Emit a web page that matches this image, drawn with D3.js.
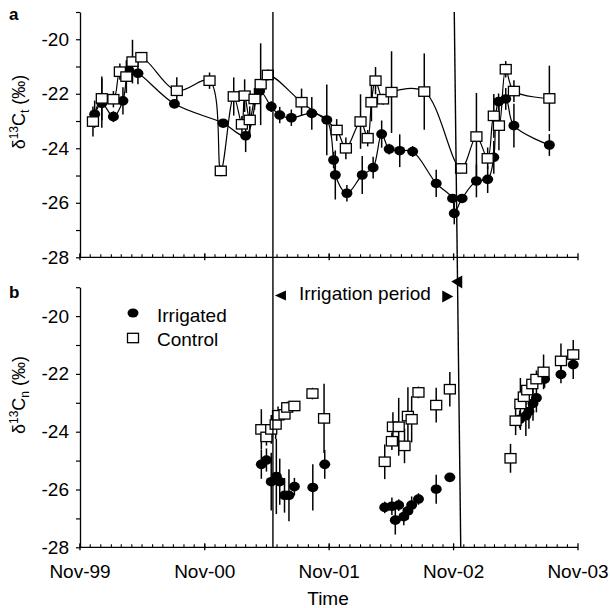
<!DOCTYPE html>
<html>
<head>
<meta charset="utf-8">
<script src="https://cdn.jsdelivr.net/npm/d3@7"></script>
<style>
body { margin: 0; background: #fff; }
svg text { font-family: "Liberation Sans", Arial, sans-serif; fill: #000; }
</style>
</head>
<body>
<svg id="chart" width="610" height="608"></svg>
<script>
// [date, mean, +/- error]
// panel a - d13C total
const aIrrigated = [
    ["1999-12-14",-22.75,0.5],["2000-01-04",-22.35,0.9],["2000-02-07",-22.84,0.2],["2000-03-06",-22.26,0.5],
    ["2000-03-24",-21.16,0.3],["2000-04-19",-21.25,0.4],["2000-08-04",-22.37,0.1],["2000-12-25",-23.08,0.1],
    ["2001-03-01",-23.54,0.6],["2001-04-11",-21.9,0.3],["2001-05-15",-22.47,0.2],["2001-06-09",-22.78,0.3],
    ["2001-07-13",-22.88,0.3],["2001-09-11",-22.72,0.6],["2001-10-25",-22.96,1.3],["2001-11-14",-24.43,0.3],
    ["2001-11-19",-24.98,0.9],["2001-12-23",-25.65,0.3],["2002-02-06",-24.98,0.7],["2002-03-10",-24.71,0.4],
    ["2002-04-04",-23.48,0.5],["2002-04-26",-24.03,0.2],["2002-05-27",-24.09,0.6],["2002-07-04",-24.12,0.2],
    ["2002-09-11",-25.29,0.5],["2002-10-29",-25.84,0.1],["2002-11-03",-26.39,0.4],["2002-11-26",-25.84,0.1],
    ["2003-01-07",-25.2,0.6],["2003-02-09",-25.14,0.5],["2003-02-27",-24.33,0.6],["2003-03-13",-22.29,0.3],
    ["2003-04-03",-22.19,0.4],["2003-04-27",-23.17,0.8],["2003-08-09",-23.88,0.4]
]
const aControl = [
    ["1999-12-09",-23.02,0.55],["2000-01-04",-22.17,0.8],["2000-02-07",-22.2,0.3],["2000-02-26",-21.19,0.3],
    ["2000-03-16",-21.37,0.6],["2000-04-03",-20.82,0.8],["2000-04-29",-20.66,0.1],["2000-08-11",-21.89,0.5],
    ["2000-11-15",-21.52,0.3],["2000-12-18",-24.83,0.2],["2001-01-25",-22.1,0.7],["2001-02-18",-23.12,0.3],
    ["2001-02-26",-22.07,0.6],["2001-03-13",-22.96,0.5],["2001-03-27",-22.19,0.4],["2001-04-14",-21.65,1.5],
    ["2001-05-05",-21.31,0.2],["2001-08-12",-22.31,0.5],["2001-11-23",-23.33,0.4],["2001-12-20",-24.0,0.4],
    ["2002-02-01",-23.02,1.0],["2002-02-22",-23.63,0.3],["2002-03-05",-22.31,0.7],["2002-03-17",-21.52,0.5],
    ["2002-04-08",-22.2,0.2],["2002-05-03",-21.94,1.5],["2002-08-07",-21.92,1.4],["2002-11-23",-24.74,0.1],
    ["2003-01-07",-23.57,1.6],["2003-02-09",-24.37,0.4],["2003-02-27",-22.81,0.8],["2003-03-14",-23.17,0.9],
    ["2003-04-03",-21.1,0.3],["2003-04-27",-21.9,0.4],["2003-08-09",-22.17,1.2]
]
// panel b - d13C needles
const bIrrigated = [
    ["2001-04-16",-25.13,0.5],["2001-05-01",-24.98,0.4],["2001-05-15",-25.73,1.0],["2001-05-30",-25.55,1.3],
    ["2001-06-09",-25.73,0.8],["2001-06-23",-26.2,0.6],["2001-07-06",-26.2,0.9],["2001-07-22",-25.9,0.3],
    ["2001-09-14",-25.93,0.8],["2001-10-19",-25.13,0.5],["2002-04-13",-26.62,0.2],["2002-05-04",-26.58,0.3],
    ["2002-05-14",-27.06,0.5],["2002-05-24",-26.54,0.2],["2002-06-08",-26.94,0.3],["2002-06-20",-26.74,0.3],
    ["2002-07-01",-26.54,0.3],["2002-07-21",-26.33,0.2],["2002-09-11",-25.99,0.5],["2002-10-21",-25.58,0.1],
    ["2003-05-14",-23.57,0.3],["2003-06-01",-23.45,0.7],["2003-06-10",-23.3,0.6],["2003-06-22",-23.02,0.6],
    ["2003-07-02",-22.83,0.5],["2003-07-26",-22.18,0.3],["2003-09-12",-22.02,0.3],["2003-10-18",-21.68,0.5]
]
const bControl = [
    ["2001-04-16",-23.92,0.7],["2001-05-01",-24.18,0.3],["2001-05-15",-23.92,0.5],["2001-05-28",-23.75,0.5],
    ["2001-06-04",-23.43,0.3],["2001-06-23",-23.4,0.2],["2001-07-01",-23.16,0.2],["2001-07-22",-23.11,0.1],
    ["2001-09-13",-22.68,0.2],["2001-10-17",-23.54,1.2],["2002-04-13",-25.04,0.6],["2002-05-04",-24.33,0.3],
    ["2002-05-07",-23.83,0.5],["2002-05-24",-23.83,1.0],["2002-06-10",-24.49,0.6],["2002-06-20",-23.46,1.0],
    ["2002-07-01",-23.57,0.8],["2002-07-21",-22.64,0.2],["2002-09-11",-23.08,0.6],["2002-10-21",-22.53,0.6],
    ["2003-04-17",-24.92,0.5],["2003-05-02",-23.62,0.5],["2003-05-16",-23.04,0.9],["2003-05-26",-22.79,0.3],
    ["2003-06-05",-22.56,0.3],["2003-06-20",-22.35,0.3],["2003-07-02",-22.18,0.3],["2003-07-23",-21.93,0.6],
    ["2003-09-12",-21.55,0.6],["2003-10-18",-21.33,0.5]
]
const yearTicks = ["Nov-99","Nov-00","Nov-01","Nov-02","Nov-03"]
const yTicks = [-28,-27,-26,-25,-24,-23,-22,-21,-20,-19]
const irrigStart = "2001-05-20"
const irrigEnd = ["2002-11-03","2002-11-22"] // top / bottom, the scanned line leans a bit

const svg = d3.select("#chart")
const parse = d3.timeParse("%Y-%m-%d")
const parseTick = d3.timeParse("%b-%y")

const x = d3.scaleTime()
    .domain([parseTick(yearTicks[0]), parseTick(yearTicks[yearTicks.length-1])])
    .range([80, 578])
const yA = d3.scaleLinear().domain([-28,-19]).range([257.3, 12])
const yB = d3.scaleLinear().domain([-28,-19]).range([547.3, 287.2])

const smooth = d3.curveCatmullRom.alpha(0.5)

function drawPanel(y, irr, ctl, joined, labels) {
    const g = svg.append("g")
    const bottom = y.range()[0]

    // y axis
    const ya = g.append("g").attr("transform", `translate(${x.range()[0]},0)`)
        .call(d3.axisLeft(y).tickValues(yTicks).tickSize(4).tickSizeOuter(0).tickPadding(7)
            .tickFormat(d => d % 2 === 0 ? d : ""))
    ya.select(".domain").attr("stroke-width", 1.3)
    ya.selectAll("line").attr("stroke-width", 1.2)
    ya.selectAll("text").attr("font-size", 19).attr("font-family", null)

    // x axis: monthly minor ticks up, yearly ticks across
    const xa = g.append("g").attr("transform", `translate(0,${bottom})`)
    xa.append("line").attr("x1", x.range()[0]).attr("x2", x.range()[1]).attr("stroke", "#000").attr("stroke-width", 1.3)
    xa.selectAll(".minor").data(d3.timeMonth.range(x.domain()[0], x.domain()[1]))
        .join("line").attr("class", "minor")
        .attr("x1", d => x(d)).attr("x2", d => x(d)).attr("y1", 0).attr("y2", -3)
        .attr("stroke", "#000").attr("stroke-width", 1.1)
    xa.selectAll(".major").data(yearTicks.map(parseTick))
        .join("line").attr("class", "major")
        .attr("x1", d => x(d)).attr("x2", d => x(d)).attr("y1", -4).attr("y2", 3)
        .attr("stroke", "#000").attr("stroke-width", 1.3)
    if (labels) {
        xa.selectAll(".lbl").data(yearTicks)
            .join("text").attr("class", "lbl")
            .attr("x", d => x(parseTick(d))).attr("y", 31)
            .attr("text-anchor", "middle").attr("font-size", 19)
            .text(d => d)
    }

    const pts = s => s.map(d => ({date: parse(d[0]), v: d[1], e: d[2]}))
    const I = pts(irr), C = pts(ctl)

    if (joined) {
        const line = d3.line().x(d => x(d.date)).y(d => y(d.v)).curve(smooth)
        g.append("path").datum(I).attr("d", line).attr("fill", "none").attr("stroke", "#000").attr("stroke-width", 1.2)
        g.append("path").datum(C).attr("d", line).attr("fill", "none").attr("stroke", "#000").attr("stroke-width", 1.2)
    }

    // error bars
    g.selectAll(".err").data(I.concat(C)).join("line").attr("class", "err")
        .attr("x1", d => x(d.date)).attr("x2", d => x(d.date))
        .attr("y1", d => y(d.v + d.e)).attr("y2", d => y(d.v - d.e))
        .attr("stroke", "#000").attr("stroke-width", 1.5)

    g.selectAll(".irr").data(I).join("ellipse").attr("class", "irr")
        .attr("cx", d => x(d.date)).attr("cy", d => y(d.v))
        .attr("rx", 5.5).attr("ry", 4.8).attr("fill", "#000")
    g.selectAll(".ctl").data(C).join("rect").attr("class", "ctl")
        .attr("x", d => x(d.date) - 5.5).attr("y", d => y(d.v) - 4.7)
        .attr("width", 11).attr("height", 9.4)
        .attr("fill", "#fff").attr("stroke", "#000").attr("stroke-width", 1.3)
}

drawPanel(yA, aIrrigated, aControl, true, false)
drawPanel(yB, bIrrigated, bControl, false, true)

// irrigation period markers
const lineTop = yA.range()[1], lineBot = yB.range()[0]
const xs = x(parse(irrigStart))
svg.append("line").attr("x1", xs).attr("x2", xs).attr("y1", lineTop).attr("y2", lineBot)
    .attr("stroke", "#000").attr("stroke-width", 1.4)
svg.append("line")
    .attr("x1", x(parse(irrigEnd[0]))).attr("x2", x(parse(irrigEnd[1])))
    .attr("y1", lineTop).attr("y2", lineBot)
    .attr("stroke", "#000").attr("stroke-width", 1.4)

const arrowY = 295.5
const xe = x(parse(irrigEnd[0])) + 2
svg.append("path").attr("d", `M${xs+2},${arrowY} L${xs+13},${arrowY-5} L${xs+13},${arrowY+5} Z`).attr("fill", "#000")
svg.append("path").attr("d", `M${xe-3},${arrowY+1} L${xe-14},${arrowY-5} L${xe-14},${arrowY+7} Z`).attr("fill", "#000")
svg.append("path").attr("d", `M${xe-5},${arrowY-14} L${xe+6},${arrowY-20} L${xe+6},${arrowY-7} Z`).attr("fill", "#000")
svg.append("text").attr("x", xs + 26).attr("y", 300).attr("font-size", 19).text("Irrigation period")

// legend
svg.append("ellipse").attr("cx", 133).attr("cy", 313).attr("rx", 5.5).attr("ry", 4.6).attr("fill", "#000")
svg.append("rect").attr("x", 127.5).attr("y", 333.3).attr("width", 11).attr("height", 9.4)
    .attr("fill", "#fff").attr("stroke", "#000").attr("stroke-width", 1.3)
svg.append("text").attr("x", 157).attr("y", 322).attr("font-size", 19).text("Irrigated")
svg.append("text").attr("x", 157).attr("y", 346).attr("font-size", 19).text("Control")

// panel letters, axis titles
svg.append("text").attr("x", 9).attr("y", 20).attr("font-size", 17).attr("font-weight", "bold").text("a")
svg.append("text").attr("x", 9).attr("y", 298).attr("font-size", 17).attr("font-weight", "bold").text("b")
svg.append("text").attr("x", 328).attr("y", 605).attr("text-anchor", "middle").attr("font-size", 19).text("Time")

function yTitle(cy, sub) {
    const t = svg.append("text").attr("transform", `translate(25,${cy}) rotate(-90)`)
        .attr("text-anchor", "middle").attr("font-size", 18)
    t.append("tspan").text("δ")
    t.append("tspan").attr("font-size", 12).attr("dy", -7).text("13")
    t.append("tspan").attr("dy", 7).text("C")
    t.append("tspan").attr("font-size", 12).attr("dy", 4).text(sub)
    t.append("tspan").attr("dy", -4).text(" (‰)")
}
yTitle(112, "t")
yTitle(395, "n")
</script>
</body>
</html>
